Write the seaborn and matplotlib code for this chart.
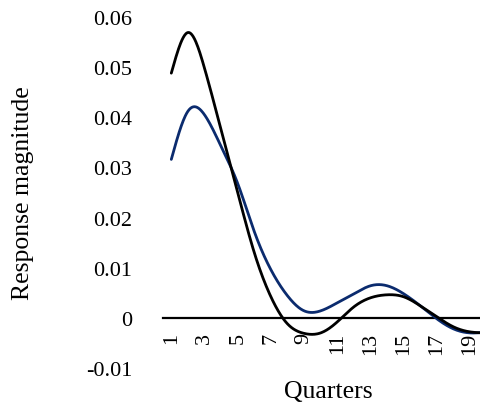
import numpy as np
import pandas as pd
import matplotlib
matplotlib.use("Agg")
import matplotlib.pyplot as plt
import seaborn as sns

# Impulse responses over 20 quarters
quarters = list(range(1, 21))
response_black = [0.0488, 0.0569, 0.0498, 0.0375, 0.0250, 0.0130, 0.0042, -0.0012,
                  -0.0031, -0.0030, -0.0008, 0.0022, 0.0040, 0.0046, 0.0042, 0.0024,
                  0.0002, -0.0018, -0.0028, -0.0030]
response_blue = [0.0316, 0.0412, 0.0405, 0.0342, 0.0268, 0.0172, 0.0096, 0.0044,
                 0.0014, 0.0014, 0.0030, 0.0048, 0.0064, 0.0064, 0.0048, 0.0024,
                 -0.0002, -0.0022, -0.0030, -0.0028]
tick_quarters = list(range(1, 21, 2))
y_ticks = [-0.01, 0.0, 0.01, 0.02, 0.03, 0.04, 0.05, 0.06]
y_tick_labels = ["-0.01", "0", "0.01", "0.02", "0.03", "0.04", "0.05", "0.06"]


def smooth(xs, ys, n=25):
    """Natural cubic spline through the points (smoothed-line look)."""
    xs = np.asarray(xs, float)
    ys = np.asarray(ys, float)
    m = len(xs)
    h = np.diff(xs)
    A = np.zeros((m, m))
    rhs = np.zeros(m)
    A[0, 0] = A[-1, -1] = 1.0
    for i in range(1, m - 1):
        A[i, i - 1] = h[i - 1]
        A[i, i] = 2 * (h[i - 1] + h[i])
        A[i, i + 1] = h[i]
        rhs[i] = 6 * ((ys[i + 1] - ys[i]) / h[i] - (ys[i] - ys[i - 1]) / h[i - 1])
    M = np.linalg.solve(A, rhs)
    out_x, out_y = [], []
    for i in range(m - 1):
        t = np.linspace(xs[i], xs[i + 1], n, endpoint=False)
        a = xs[i + 1] - t
        b = t - xs[i]
        seg = (M[i] * a ** 3 / (6 * h[i]) + M[i + 1] * b ** 3 / (6 * h[i])
               + (ys[i] / h[i] - M[i] * h[i] / 6) * a
               + (ys[i + 1] / h[i] - M[i + 1] * h[i] / 6) * b)
        out_x.extend(t)
        out_y.extend(seg)
    out_x.append(xs[-1])
    out_y.append(ys[-1])
    return np.array(out_x), np.array(out_y)


sns.set_style("white")
plt.rcParams["font.family"] = ["Liberation Serif", "DejaVu Serif"]
plt.rcParams["text.color"] = "black"
plt.rcParams["xtick.color"] = "black"
plt.rcParams["ytick.color"] = "black"

fig = plt.figure(figsize=(4.81, 4.06), dpi=100)
ax = fig.add_axes([163 / 481, 37 / 406, 1 - 163 / 481, 351 / 406])

frames = []
for name, vals in (("blue", response_blue), ("black", response_black)):
    sx, sy = smooth(quarters, vals)
    frames.append(pd.DataFrame({"quarter": sx, "response": sy, "series": name}))
df = pd.concat(frames, ignore_index=True)

sns.lineplot(data=df, x="quarter", y="response", hue="series", sort=False,
             palette={"blue": "#0b2b6e", "black": "#000000"},
             linewidth=2.0, legend=False, ax=ax, zorder=3)

ax.set_xlim(0.5, 0.5 + (481 - 163) / 16.6)
ax.set_ylim(-0.01, 0.06)

for side in ("top", "right", "left"):
    ax.spines[side].set_visible(False)
ax.spines["bottom"].set_position(("data", 0))
ax.spines["bottom"].set_color("black")
ax.spines["bottom"].set_linewidth(1.6)
ax.spines["bottom"].set_zorder(2)

ax.set_xticks(tick_quarters)
ax.set_xticklabels([str(q) for q in tick_quarters], rotation=90, fontsize=16,
                   va="top", ha="center")
ax.tick_params(axis="x", length=0, pad=10)
ax.set_yticks(y_ticks)
ax.set_yticklabels(y_tick_labels, fontsize=16)
ax.tick_params(axis="y", length=0, pad=22)
ax.set_xlabel("")
ax.set_ylabel("")
ax.grid(False)

fig.text(23 / 481, 1 - 193 / 406, "Response magnitude", rotation=90,
         ha="center", va="center", fontsize=18.5)
fig.text(328 / 481, 1 - 392 / 406, "Quarters", ha="center", va="center",
         fontsize=18.5)

fig.savefig("out.png", dpi=100)
